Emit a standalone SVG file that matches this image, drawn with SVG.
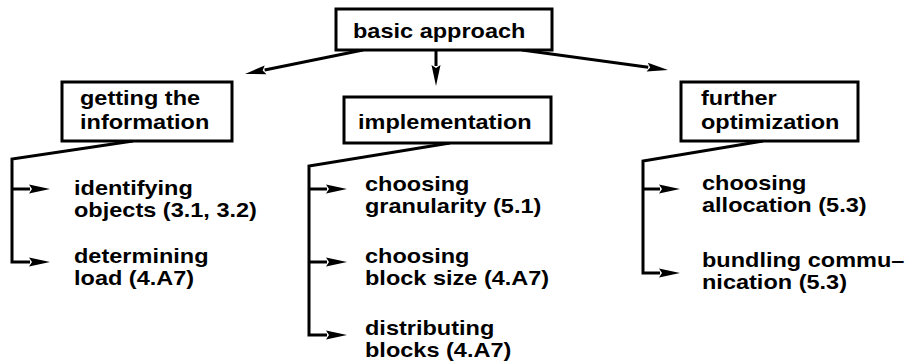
<svg xmlns="http://www.w3.org/2000/svg" width="908" height="363" viewBox="0 0 908 363">
<style>
.box{fill:#fff;stroke:#000;stroke-width:3}
.t{font-family:"Liberation Sans",Arial,sans-serif;font-weight:bold;font-size:21px;fill:#000}
.c{fill:none;stroke:#000;stroke-width:3;stroke-linejoin:miter;marker-end:url(#ah)}
</style>
<defs>
<marker id="ah" markerUnits="userSpaceOnUse" markerWidth="22" markerHeight="10" refX="1" refY="4.5" orient="auto" overflow="visible">
<path d="M0,0 L21,4.5 L0,9 L3,4.5 Z" fill="#000"/>
</marker>
</defs>
<g id="connectors">
<path class="c" d="M363,50 L264.6,70"/>
<path class="c" d="M436,50 L436,66"/>
<path class="c" d="M522,50 L648.2,67.3"/>
<path class="c" d="M133,141 L12,159 L12,262 L30,262"/>
<path class="c" d="M12,189 L30,189"/>
<path class="c" d="M450,143 L309,166 L309,335 L327,335"/>
<path class="c" d="M309,189 L327,189"/>
<path class="c" d="M309,262 L327,262"/>
<path class="c" d="M763,141 L643,161 L643,273 L660,273"/>
<path class="c" d="M643,189 L660,189"/>
</g>
<g id="basic">
<rect class="box" x="336" y="9" width="216" height="41"/>
<text class="t" transform="translate(353,38) scale(1.12,1)">basic approach</text>
</g>
<g id="getting">
<rect class="box" x="62" y="82" width="170" height="59"/>
<text class="t" transform="translate(80,105) scale(1.12,1)">getting the</text>
<text class="t" transform="translate(80,129) scale(1.12,1)">information</text>
</g>
<g id="implementation">
<rect class="box" x="344" y="97" width="207" height="46"/>
<text class="t" transform="translate(358,129) scale(1.12,1)">implementation</text>
</g>
<g id="further">
<rect class="box" x="681" y="82" width="177" height="59"/>
<text class="t" transform="translate(701,105) scale(1.12,1)">further</text>
<text class="t" transform="translate(701,129) scale(1.12,1)">optimization</text>
</g>
<g id="identifying">
<text class="t" transform="translate(74,195) scale(1.12,1)">identifying</text>
<text class="t" transform="translate(74,217) scale(1.12,1)">objects (3.1, 3.2)</text>
</g>
<g id="determining">
<text class="t" transform="translate(74,263) scale(1.12,1)">determining</text>
<text class="t" transform="translate(74,285) scale(1.12,1)">load (4.A7)</text>
</g>
<g id="granularity">
<text class="t" transform="translate(365,191) scale(1.12,1)">choosing</text>
<text class="t" transform="translate(365,213) scale(1.12,1)">granularity (5.1)</text>
</g>
<g id="blocksize">
<text class="t" transform="translate(365,263) scale(1.12,1)">choosing</text>
<text class="t" transform="translate(365,285) scale(1.12,1)">block size (4.A7)</text>
</g>
<g id="distributing">
<text class="t" transform="translate(365,335) scale(1.12,1)">distributing</text>
<text class="t" transform="translate(365,357) scale(1.12,1)">blocks (4.A7)</text>
</g>
<g id="allocation">
<text class="t" transform="translate(702,190) scale(1.12,1)">choosing</text>
<text class="t" transform="translate(702,212) scale(1.12,1)">allocation (5.3)</text>
</g>
<g id="bundling">
<text class="t" transform="translate(702,267) scale(1.12,1)">bundling commu–</text>
<text class="t" transform="translate(702,289) scale(1.12,1)">nication (5.3)</text>
</g>
</svg>
